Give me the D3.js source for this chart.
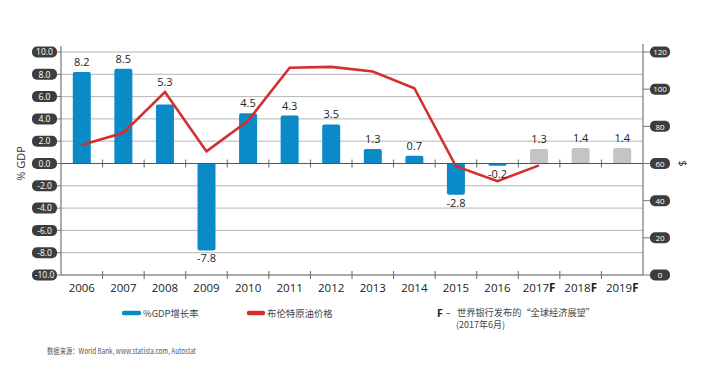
<!DOCTYPE html>
<html><head><meta charset="utf-8">
<script src="https://cdn.jsdelivr.net/npm/d3@7"></script>
<style>
html,body{margin:0;padding:0;background:#fff;}
svg{display:block;font-family:"Open Sans","DejaVu Sans",sans-serif;}
</style></head>
<body>
<svg id="chart" width="702" height="369"></svg>
<script>
const years = ["2006","2007","2008","2009","2010","2011","2012","2013","2014","2015","2016","2017F","2018F","2019F"];
const gdpGrowth = [8.2, 8.5, 5.3, -7.8, 4.5, 4.3, 3.5, 1.3, 0.7, -2.8, -0.2, 1.3, 1.4, 1.4];
const forecast = [false,false,false,false,false,false,false,false,false,false,false,true,true,true];
const brentYears = ["2006","2007","2008","2009","2010","2011","2012","2013","2014","2015","2016","2017F"];
const brentPrice = [70, 76.5, 98.5, 66.5, 83, 111.5, 112, 109.5, 100.5, 58.5, 50.5, 59];
const leftTicks = [10,8,6,4,2,0,-2,-4,-6,-8,-10];
const rightTicks = [120,100,80,60,40,20,0];

const svg = d3.select("#chart");
const x0 = 61, x1 = 643, yTop = 52, yBot = 275;
const x = d3.scaleBand().domain(years).range([x0, x1]).padding(0);
const y = d3.scaleLinear().domain([-10, 10]).range([yBot, yTop]);
const y2 = d3.scaleLinear().domain([0, 120]).range([yBot, yTop]);
const bw = 18;
const cx = d => x(d) + x.bandwidth() / 2;

// gridlines
svg.append("g").selectAll("line").data(leftTicks.filter(d => d !== 0 && d !== -10)).join("line")
  .attr("x1", x0).attr("x2", x1).attr("y1", d => y(d)).attr("y2", d => y(d))
  .attr("stroke", "#b5b5b5").attr("stroke-width", 1);

// bars
svg.append("g").selectAll("path").data(gdpGrowth).join("path")
  .attr("fill", (d, i) => forecast[i] ? "#c4c4c4" : "#0a8bc8")
  .attr("d", (d, i) => {
    const c = cx(years[i]);
    const xa = c - bw / 2, xb = c + bw / 2;
    const y0 = y(0), yv = y(d);
    const r = Math.min(2, Math.abs(y0 - yv) / 2);
    const s = d >= 0 ? 1 : -1;
    return `M${xa},${y0} L${xa},${yv + s * r} Q${xa},${yv} ${xa + r},${yv} L${xb - r},${yv} Q${xb},${yv} ${xb},${yv + s * r} L${xb},${y0} Z`;
  });

// zero line and bottom line
svg.append("line").attr("x1", x0).attr("x2", x1).attr("y1", y(0)).attr("y2", y(0)).attr("stroke", "#555").attr("stroke-width", 1.2);
svg.append("line").attr("x1", x0).attr("x2", x1).attr("y1", y(-10)).attr("y2", y(-10)).attr("stroke", "#555").attr("stroke-width", 1.2);

// category ticks (band boundaries)
const bounds = years.slice(1).map(d => x(d));
[y(0), y(-10)].forEach(yy => {
  svg.append("g").selectAll("line").data(bounds).join("line")
    .attr("x1", d => d).attr("x2", d => d).attr("y1", yy - 4).attr("y2", yy + 4)
    .attr("stroke", "#666").attr("stroke-width", 1);
});

// axes lines
svg.append("line").attr("x1", x0).attr("x2", x0).attr("y1", 46).attr("y2", yBot).attr("stroke", "#777").attr("stroke-width", 1.2);
svg.append("line").attr("x1", x1).attr("x2", x1).attr("y1", 44).attr("y2", yBot).attr("stroke", "#777").attr("stroke-width", 1.2);

// oil line
const line = d3.line().x((d, i) => cx(brentYears[i])).y(d => y2(d));
svg.append("path").datum(brentPrice).attr("d", line).attr("fill", "none")
  .attr("stroke", "#d42f2c").attr("stroke-width", 2.6).attr("stroke-linejoin", "miter");

// bar value labels (lifted above the oil line when it sits just above the bar)
function labelY(d, i) {
  if (d < 0) return y(d) + 12;
  let top = y(d);
  const j = brentYears.indexOf(years[i]);
  if (j >= 0) {
    const oy = y2(brentPrice[j]);
    if (oy < top && top - oy < 25) top = oy;
  }
  return top - 6;
}
svg.append("g").selectAll("text").data(gdpGrowth).join("text")
  .attr("x", (d, i) => cx(years[i]))
  .attr("y", labelY)
  .attr("text-anchor", "middle").attr("font-size", 11).attr("fill", "#222")
  .text(d => d.toFixed(1));

// left axis pills
const lg = svg.append("g").selectAll("g").data(leftTicks).join("g")
  .attr("transform", d => `translate(0,${y(d)})`);
lg.append("line").attr("x1", 56).attr("x2", x0).attr("stroke", "#777");
lg.append("rect").attr("x", 32).attr("y", -5.5).attr("width", 25).attr("height", 11).attr("rx", 5).attr("fill", "#3d3d3f");
lg.append("text").attr("x", 44.5).attr("y", 3.2).attr("text-anchor", "middle").attr("font-size", 8.5).attr("fill", "#fff").text(d => d.toFixed(1));

// right axis pills
const rg = svg.append("g").selectAll("g").data(rightTicks).join("g")
  .attr("transform", d => `translate(0,${y2(d)})`);
rg.append("line").attr("x1", x1).attr("x2", 651).attr("stroke", "#777");
rg.append("rect").attr("x", 650).attr("y", -5.5).attr("width", 20).attr("height", 11).attr("rx", 5).attr("fill", "#3d3d3f");
rg.append("text").attr("x", 660).attr("y", 3.2).attr("text-anchor", "middle").attr("font-size", 8).attr("fill", "#fff").text(d => d);

// axis titles
svg.append("text").attr("transform", `translate(25,${y(0)}) rotate(-90)`).attr("text-anchor", "middle")
  .attr("font-size", 11).attr("fill", "#333").text("% GDP");
svg.append("text").attr("transform", `translate(679,${y(0)}) rotate(90)`).attr("text-anchor", "middle")
  .attr("font-size", 11).attr("fill", "#333").text("$");

// x labels
const xl = svg.append("g").selectAll("text").data(years).join("text")
  .attr("x", d => cx(d)).attr("y", 292)
  .attr("text-anchor", "middle").attr("font-size", 11.5).attr("fill", "#222");
xl.append("tspan").text(d => d.replace("F", ""));
xl.filter(d => d.endsWith("F")).append("tspan").attr("font-weight", "bold").text("F");

// legend
const cjk = "'Noto Sans CJK SC', sans-serif";
svg.append("line").attr("x1", 124).attr("x2", 139).attr("y1", 313).attr("y2", 313).attr("stroke", "#0a8bc8").attr("stroke-width", 4.5).attr("stroke-linecap", "round");
svg.append("text").attr("x", 143).attr("y", 316.5).attr("font-size", 9.4).attr("fill", "#444").attr("font-family", cjk).text("%GDP增长率");
svg.append("line").attr("x1", 249).attr("x2", 263).attr("y1", 313).attr("y2", 313).attr("stroke", "#d42f2c").attr("stroke-width", 4.5).attr("stroke-linecap", "round");
svg.append("text").attr("x", 267).attr("y", 316.5).attr("font-size", 9.4).attr("fill", "#444").attr("font-family", cjk).text("布伦特原油价格");
svg.append("text").attr("x", 437).attr("y", 317).attr("font-size", 10.5).attr("font-weight", "bold").attr("fill", "#222").text("F");
svg.append("text").attr("x", 446).attr("y", 316).attr("font-size", 9).attr("fill", "#444").text("–");
svg.append("text").attr("x", 457).attr("y", 316).attr("font-size", 9).attr("fill", "#444").attr("font-family", cjk)
  .attr("textLength", 138).attr("lengthAdjust", "spacingAndGlyphs").text("世界银行发布的“全球经济展望”");
svg.append("text").attr("x", 456).attr("y", 328).attr("font-size", 9).attr("fill", "#444").attr("font-family", cjk).text("(2017年6月)");

// source
svg.append("text").attr("x", 47).attr("y", 354).attr("font-size", 8).attr("fill", "#555")
  .attr("font-family", "'Liberation Sans Narrow','Noto Sans CJK SC',sans-serif")
  .attr("textLength", 149).attr("lengthAdjust", "spacingAndGlyphs")
  .text("数据来源：World Bank, www.statista.com, Autostat");
</script>
</body></html>
